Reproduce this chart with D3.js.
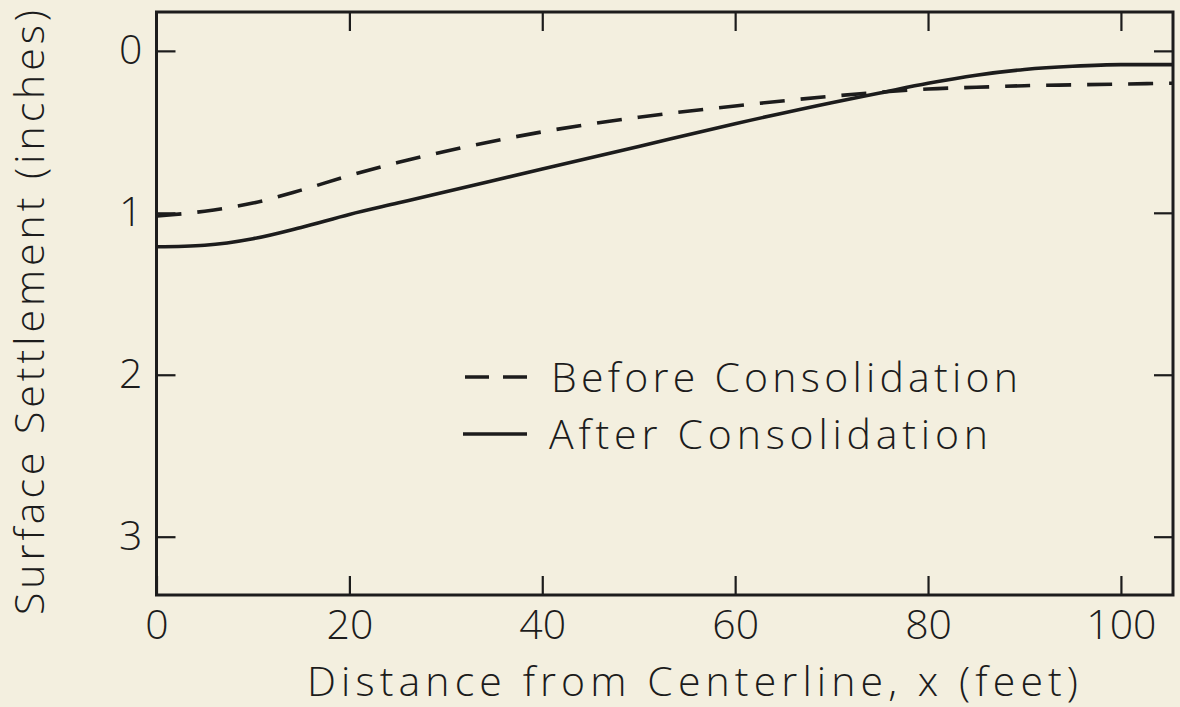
<!DOCTYPE html>
<html>
<head>
<meta charset="utf-8">
<script src="https://cdn.jsdelivr.net/npm/d3@7"></script>
<style>
  html, body { margin: 0; padding: 0; background: #f3efdf; }
  svg { display: block; }
  text { font-family: "Open Sans", "DejaVu Sans", sans-serif; font-weight: 300; fill: #1c1c1c; }
</style>
</head>
<body>
<svg id="chart" width="1180" height="707"></svg>
<script>
// Distance from the centerline (feet)
const distance = [0, 5, 10, 15, 20, 25, 30, 40, 50, 60, 70, 75, 80, 85, 90, 95, 100, 105.4];
// Surface settlement before consolidation (inches)
const before = [1.02, 0.99, 0.94, 0.86, 0.77, 0.69, 0.62, 0.50, 0.41, 0.34, 0.28, 0.255, 0.235, 0.225, 0.215, 0.21, 0.205, 0.20];
// Surface settlement after consolidation (inches)
const after = [1.21, 1.20, 1.16, 1.09, 1.01, 0.94, 0.87, 0.73, 0.59, 0.45, 0.32, 0.26, 0.20, 0.15, 0.115, 0.095, 0.085, 0.085];

const xTicks = [0, 20, 40, 60, 80, 100];
const yTicks = [0, 1, 2, 3];
const legendLabels = ["Before Consolidation", "After Consolidation"];

const svg = d3.select("#chart");
const plotLeft = 156.5, plotRight = 1173, plotTop = 12, plotBottom = 595;

const x = d3.scaleLinear().domain([0, 105.4]).range([plotLeft, plotRight]);
const y = d3.scaleLinear().domain([-0.24, 3.36]).range([plotTop, plotBottom]);

const ink = "#1c1c1c";
const tickLen = 19;

// Frame
svg.append("rect")
  .attr("x", plotLeft).attr("y", plotTop)
  .attr("width", plotRight - plotLeft).attr("height", plotBottom - plotTop)
  .attr("fill", "none").attr("stroke", ink).attr("stroke-width", 3);

function styleAxis(g) {
  g.select(".domain").remove();
  g.selectAll(".tick line").attr("stroke", ink).attr("stroke-width", 2.2);
  g.selectAll(".tick text").attr("font-size", 41).attr("fill", ink)
    .style("font-family", "\"Open Sans\", \"DejaVu Sans\", sans-serif").style("font-weight", 300);
}

// Bottom axis: ticks point inward, labels below
svg.append("g").attr("transform", `translate(0,${plotBottom})`)
  .call(d3.axisBottom(x).tickValues(xTicks).tickSizeInner(-tickLen).tickSizeOuter(0).tickPadding(15))
  .call(styleAxis);

// Top axis: inward ticks only
svg.append("g").attr("transform", `translate(0,${plotTop})`)
  .call(d3.axisTop(x).tickValues(xTicks.filter(d => d > 0)).tickSizeInner(-tickLen).tickSizeOuter(0).tickFormat(""))
  .call(styleAxis);

// Left axis with labels
svg.append("g").attr("transform", `translate(${plotLeft},0)`)
  .call(d3.axisLeft(y).tickValues(yTicks).tickSizeInner(-tickLen).tickSizeOuter(0).tickPadding(14).tickFormat(d3.format("d")))
  .call(styleAxis);

// Right axis: inward ticks only
svg.append("g").attr("transform", `translate(${plotRight},0)`)
  .call(d3.axisRight(y).tickValues(yTicks).tickSizeInner(-tickLen).tickSizeOuter(0).tickFormat(""))
  .call(styleAxis);

// Curves
const line = d3.line().curve(d3.curveMonotoneX);
const beforePts = distance.map((d, i) => [x(d), y(before[i])]);
const afterPts = distance.map((d, i) => [x(d), y(after[i])]);

svg.append("path").attr("d", line(beforePts))
  .attr("fill", "none").attr("stroke", ink).attr("stroke-width", 3.6)
  .attr("stroke-dasharray", "25 16").attr("stroke-linecap", "butt");

svg.append("path").attr("d", line(afterPts))
  .attr("fill", "none").attr("stroke", ink).attr("stroke-width", 3.6);

// Legend
const legend = svg.append("g");
legend.append("line")
  .attr("x1", 465).attr("x2", 527).attr("y1", 377).attr("y2", 377)
  .attr("stroke", ink).attr("stroke-width", 3.6).attr("stroke-dasharray", "24 14");
legend.append("line")
  .attr("x1", 463).attr("x2", 527).attr("y1", 434).attr("y2", 434)
  .attr("stroke", ink).attr("stroke-width", 3.6);
legend.append("text").attr("x", 551).attr("y", 392).attr("font-size", 41)
  .attr("textLength", 467).attr("lengthAdjust", "spacing").text(legendLabels[0]);
legend.append("text").attr("x", 549).attr("y", 449).attr("font-size", 41)
  .attr("textLength", 439).attr("lengthAdjust", "spacing").text(legendLabels[1]);

// Axis titles
svg.append("text").attr("x", 307).attr("y", 696).attr("font-size", 41)
  .attr("textLength", 771).attr("lengthAdjust", "spacing")
  .text("Distance from Centerline, x (feet)");

svg.append("text").attr("transform", "translate(44,615) rotate(-90)")
  .attr("font-size", 41).attr("textLength", 605).attr("lengthAdjust", "spacing")
  .text("Surface Settlement (inches)");
</script>
</body>
</html>
